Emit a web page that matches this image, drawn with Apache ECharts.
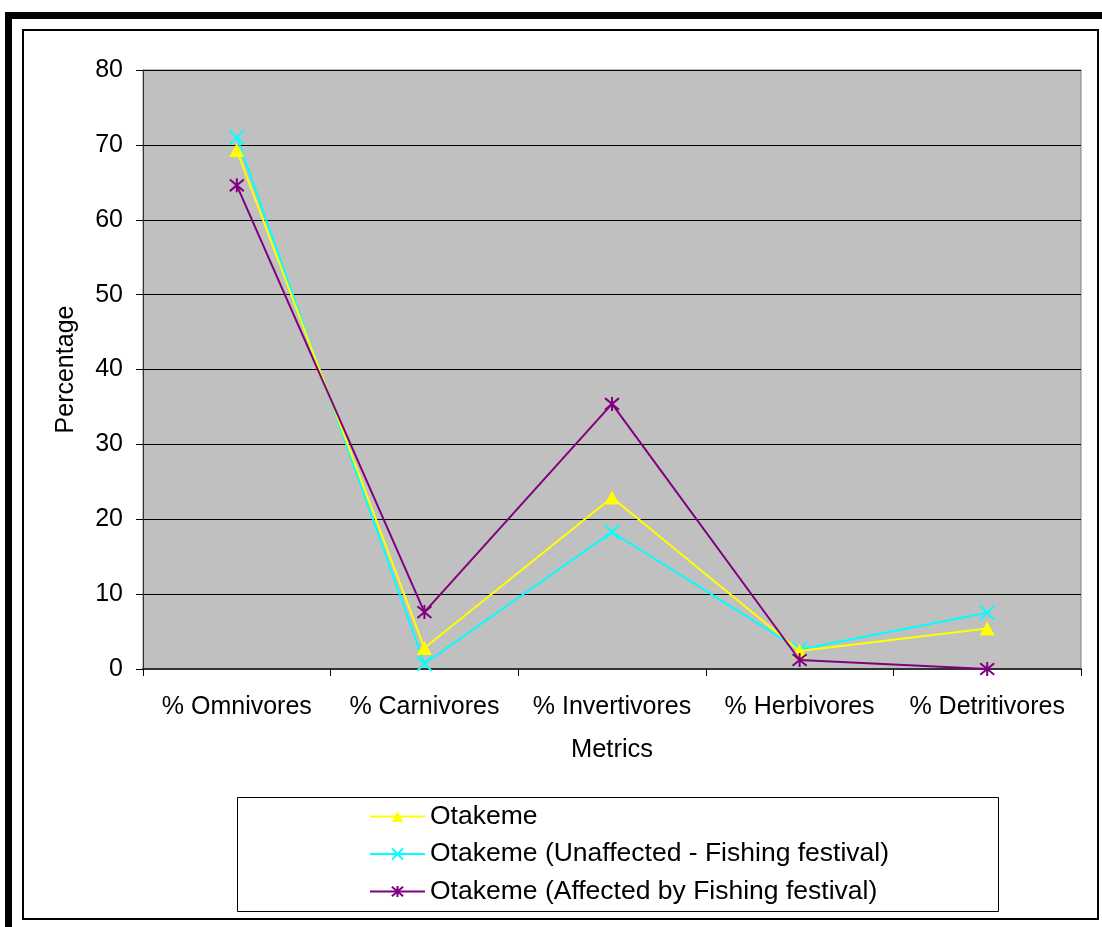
<!DOCTYPE html>
<html>
<head>
<meta charset="utf-8">
<style>
  html, body { margin: 0; padding: 0; background: #ffffff; }
  #chart { width: 1102px; height: 927px; }
</style>
<script src="https://cdn.jsdelivr.net/npm/echarts@6/dist/echarts.min.js"></script>
</head>
<body>
<div id="chart"></div>
<script>
// Trophic metrics (x-axis categories)
const metrics = ['% Omnivores', '% Carnivores', '% Invertivores', '% Herbivores', '% Detritivores'];

// Percentage values per station
const otakeme = [69.3, 2.8, 22.9, 2.4, 5.4];
const otakemeUnaffected = [71.0, 0.7, 18.3, 2.6, 7.5];
const otakemeAffected = [64.6, 7.6, 35.4, 1.2, 0];

const seriesNames = [
  'Otakeme',
  'Otakeme (Unaffected - Fishing festival)',
  'Otakeme (Affected by Fishing festival)'
];

const FONT = "'Liberation Sans', Arial, sans-serif";
const crossSymbol = 'path://M0,0L10,10M10,0L0,10';
const starSymbol = 'path://M0,0L10,10M10,0L0,10M5,-1L5,11';

const chart = echarts.init(document.getElementById('chart'), null, { renderer: 'canvas' });

chart.setOption({
  animation: false,
  backgroundColor: '#ffffff',
  textStyle: { fontFamily: FONT, color: '#000' },
  grid: {
    left: 143, right: 21, top: 70, bottom: 258,
    show: true,
    backgroundColor: '#C0C0C0',
    borderColor: '#808080',
    borderWidth: 1
  },
  xAxis: {
    type: 'category',
    data: metrics,
    boundaryGap: true,
    name: 'Metrics',
    nameLocation: 'middle',
    nameGap: 68,
    nameTextStyle: { fontSize: 25.5, fontFamily: FONT, color: '#000' },
    axisLine: { lineStyle: { color: '#333', width: 2 } },
    axisTick: { show: true, interval: 0, length: 7, lineStyle: { color: '#000', width: 1 } },
    axisLabel: { fontSize: 25, fontFamily: FONT, color: '#000', margin: 26, interval: 0 },
    splitLine: { show: false }
  },
  yAxis: {
    type: 'value',
    min: 0, max: 80, interval: 10,
    name: 'Percentage',
    nameLocation: 'middle',
    nameGap: 64,
    nameRotate: 90,
    nameTextStyle: { fontSize: 25, fontFamily: FONT, color: '#000' },
    axisLine: { show: true, lineStyle: { color: '#333', width: 1 } },
    axisTick: { show: true, length: 7, lineStyle: { color: '#000', width: 1 } },
    axisLabel: { fontSize: 25, fontFamily: FONT, color: '#000', margin: 20 },
    splitLine: { show: true, lineStyle: { color: '#000', width: 1 } }
  },
  legend: {
    orient: 'vertical',
    left: 369,
    top: 803,
    itemWidth: 55,
    itemHeight: 14,
    itemGap: 10.5,
    padding: 0,
    textStyle: { fontSize: 26.5, fontFamily: FONT, color: '#000', lineHeight: 26 },
    data: seriesNames
  },
  graphic: [
    // outer heavy frame
    { type: 'rect', shape: { x: 5, y: 12, width: 1097, height: 7 }, style: { fill: '#000' } },
    { type: 'rect', shape: { x: 5, y: 12, width: 7, height: 915 }, style: { fill: '#000' } },
    // inner frame
    { type: 'rect', shape: { x: 23, y: 30, width: 1075, height: 889 }, style: { fill: 'none', stroke: '#000', lineWidth: 2 } },
    // legend box
    { type: 'rect', shape: { x: 237.5, y: 797.5, width: 761, height: 114 }, style: { fill: 'none', stroke: '#000', lineWidth: 1 } }
  ],
  series: [
    {
      name: seriesNames[0],
      type: 'line',
      data: otakeme,
      symbol: 'triangle',
      symbolSize: [15, 14],
      lineStyle: { color: '#FFFF00', width: 2 },
      itemStyle: { color: '#FFFF00' },
      z: 3
    },
    {
      name: seriesNames[1],
      type: 'line',
      data: otakemeUnaffected,
      symbol: crossSymbol,
      symbolSize: 14,
      lineStyle: { color: '#00FFFF', width: 2 },
      itemStyle: { color: 'rgba(0,0,0,0)', borderColor: '#00FFFF', borderWidth: 2 },
      z: 2
    },
    {
      name: seriesNames[2],
      type: 'line',
      data: otakemeAffected,
      symbol: starSymbol,
      symbolSize: 14,
      lineStyle: { color: '#800080', width: 2 },
      itemStyle: { color: 'rgba(0,0,0,0)', borderColor: '#800080', borderWidth: 2 },
      z: 4
    }
  ]
});
</script>
</body>
</html>
